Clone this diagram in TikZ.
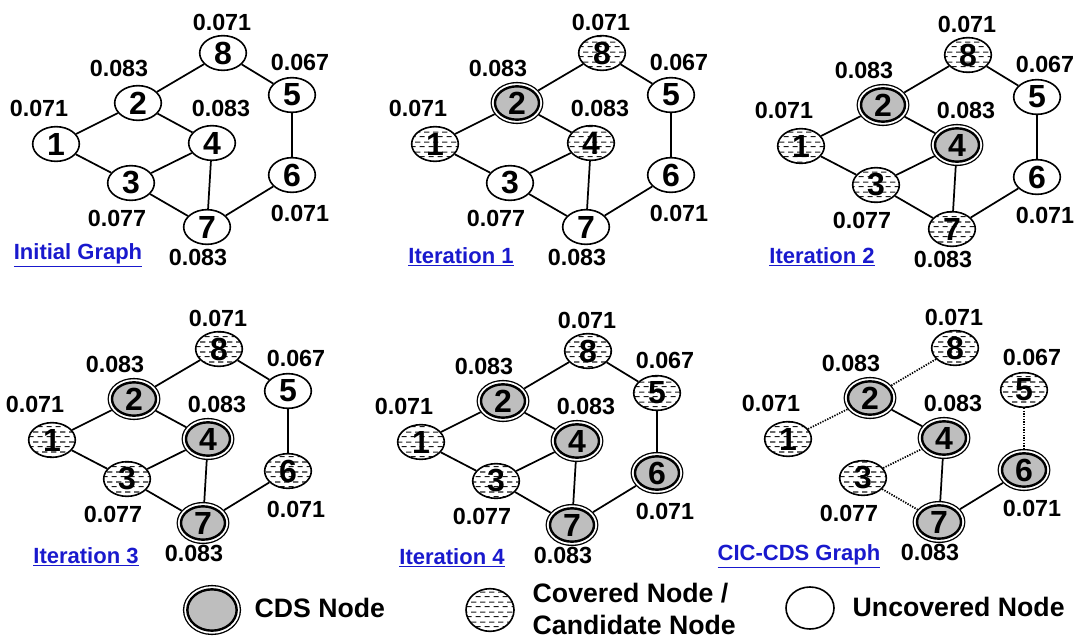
\documentclass[tikz,border=0pt]{standalone}
\usepackage{fontspec}
\setmainfont{Liberation Sans}
\usetikzlibrary{shapes.geometric,patterns}
\definecolor{cdsgray}{RGB}{190,190,190}
\definecolor{titleblue}{RGB}{25,25,205}

% short staggered dashes for covered nodes
\pgfdeclarepatternformonly{short dashes}{\pgfpointorigin}{\pgfpoint{7pt}{7.5pt}}{\pgfpoint{7pt}{7.5pt}}{%
  \pgfsetlinewidth{0.9pt}
  \pgfpathmoveto{\pgfpoint{0.5pt}{1.9pt}}\pgfpathlineto{\pgfpoint{4.5pt}{1.9pt}}
  \pgfpathmoveto{\pgfpoint{4pt}{5.6pt}}\pgfpathlineto{\pgfpoint{7pt}{5.6pt}}
  \pgfpathmoveto{\pgfpoint{0pt}{5.6pt}}\pgfpathlineto{\pgfpoint{1pt}{5.6pt}}
  \pgfusepath{stroke}}

\tikzset{
  vtx/.style={ellipse, draw, line width=1.2pt, inner sep=0pt,
    minimum width=35pt, minimum height=26pt,
    font=\fontsize{24}{24}\selectfont\bfseries},
  unc/.style={vtx, fill=white},
  cov/.style={vtx, pattern=short dashes, pattern color=black!90},
  cds/.style={vtx, fill=cdsgray, line width=1.8pt, minimum width=33pt, minimum height=25pt, outer sep=3.3pt,
    preaction={draw=black, line width=6.6pt},
    preaction={draw=white, line width=4.6pt}},
  val/.style={font=\fontsize{17.5}{17.5}\selectfont\bfseries},
  title/.style={text=titleblue, font=\fontsize{16.5}{16.5}\selectfont\bfseries},
  edge/.style={line width=1.3pt},
  tree/.style={line width=1.3pt, dash pattern=on 1pt off 1pt},
  legtext/.style={anchor=west, align=left, font=\fontsize{20}{24}\selectfont\bfseries}
}

% #1 prefix, #2..#9 styles of nodes 1..8
\newcommand{\graphnodes}[9]{%
  \node[#2] (#1-1) at (56,144) {1};
  \node[#3] (#1-2) at (138,103) {2};
  \node[#4] (#1-3) at (131,183) {3};
  \node[#5] (#1-4) at (212,143) {4};
  \node[#6] (#1-5) at (292,95) {5};
  \node[#7] (#1-6) at (292,175) {6};
  \node[#8] (#1-7) at (207,227) {7};
  \node[#9] (#1-8) at (223,53) {8};
  \node[val] (#1-w1) at (39,108) {0.071};
  \node[val] (#1-w2) at (119,68) {0.083};
  \node[val] (#1-w3) at (117,218) {0.077};
  \node[val] (#1-w4) at (221,108) {0.083};
  \node[val] (#1-w5) at (300,62) {0.067};
  \node[val] (#1-w6) at (300,213) {0.071};
  \node[val] (#1-w7) at (198,257) {0.083};
  \node[val] (#1-w8) at (222,22) {0.071};
}
\newcommand{\graphedges}[1]{%
  \foreach \u/\v in {1/2,2/8,8/5,2/4,1/3,3/4,4/7,3/7,5/6,6/7}
    \draw[edge] (#1-\u) -- (#1-\v);
}

\begin{document}
\begin{tikzpicture}[x=0.75pt,y=-0.75pt]
\useasboundingbox (0,0) rectangle (1079,639);

% initial graph
\begin{scope}
\graphnodes{g}{unc}{unc}{unc}{unc}{unc}{unc}{unc}{unc}
\graphedges{g}
\end{scope}

% iteration 1
\begin{scope}[shift={(379,0)}]
\graphnodes{a}{cov}{cds}{unc}{cov}{unc}{unc}{unc}{cov}
\graphedges{a}
\end{scope}

% iteration 2
\begin{scope}[shift={(745,2)}]
\graphnodes{b}{cov}{cds}{cov}{cds}{unc}{unc}{cov}{cov}
\graphedges{b}
\end{scope}

% iteration 3
\begin{scope}[shift={(-4,296)}]
\graphnodes{c}{cov}{cds}{cov}{cds}{unc}{cov}{cds}{cov}
\graphedges{c}
\end{scope}

% iteration 4
\begin{scope}[shift={(365,298)}]
\graphnodes{d}{cov}{cds}{cov}{cds}{cov}{cds}{cds}{cov}
\graphedges{d}
\end{scope}

% final CIC-CDS
\begin{scope}[shift={(732,295)}]
\graphnodes{f}{cov}{cds}{cov}{cds}{cov}{cds}{cds}{cov}
\foreach \u/\v in {2/4,4/7,7/6}
  \draw[edge] (f-\u) -- (f-\v);
\foreach \u/\v in {1/2,2/8,3/4,3/7,5/6}
  \draw[tree] (f-\u) -- (f-\v);
\end{scope}

% titles
\node[title] (t0) at (78,255) {\underline{Initial Graph}};
\node[title] (t1) at (461,257) {\underline{Iteration 1}};
\node[title] (t2) at (822,257) {\underline{Iteration 2}};
\node[title] (t3) at (86,557) {\underline{Iteration 3}};
\node[title] (t4) at (452,558) {\underline{Iteration 4}};
\node[title] (t5) at (799,556) {\underline{CIC-CDS Graph}};

% legend
\node[cds, minimum width=37pt, minimum height=31pt] (kcds) at (212,610) {};
\node[legtext] (kcdst) at (250,608) {CDS Node};
\node[cov, minimum width=36pt, minimum height=32pt] (kcov) at (490,610) {};
\node[legtext] (kcovt) at (528,609) {Covered Node /\\Candidate Node};
\node[unc, minimum width=36pt, minimum height=31.5pt] (kunc) at (810,608) {};
\node[legtext] (kunct) at (848,607) {Uncovered Node};
\end{tikzpicture}
\end{document}
